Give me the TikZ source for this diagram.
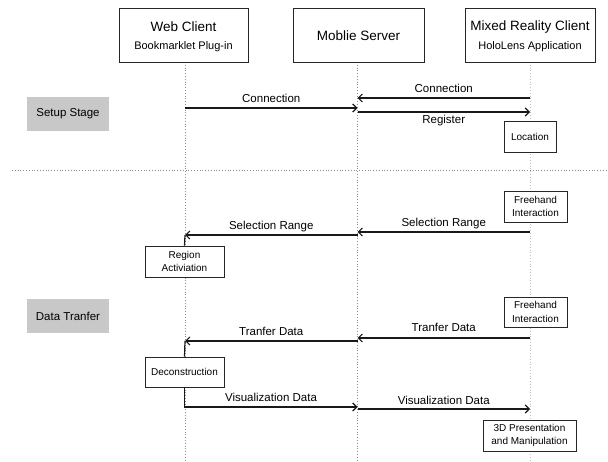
\documentclass[tikz,border=0pt]{standalone}
\usepackage{fontspec}
\setmainfont{Liberation Sans}
\usetikzlibrary{arrows.meta}
\definecolor{stagegray}{HTML}{C8C8C8}
\definecolor{lifegray}{HTML}{8C8C8C}
\begin{document}
\begin{tikzpicture}[x=1pt,y=-1pt,
  titlebox/.style={draw=black!85,line width=0.8pt,fill=white,minimum width=129pt,minimum height=54pt,inner sep=0pt},
  ttl/.style={font=\fontsize{13.5}{16}\selectfont,inner sep=0pt},
  sub/.style={font=\fontsize{11}{13}\selectfont,inner sep=0pt},
  smallbox/.style={draw=black!85,line width=0.8pt,fill=white,inner sep=0pt,align=center,font=\fontsize{10}{13.5}\selectfont},
  stagebox/.style={fill=stagegray,minimum width=82pt,minimum height=34pt,inner sep=0pt,font=\fontsize{11.5}{13}\selectfont},
  lifeline/.style={dotted,line width=0.8pt,draw=lifegray},
  msg/.style={-{Straight Barb[length=4pt,width=8pt]},line width=1.2pt,draw=black!90},
  plainline/.style={line width=1.2pt,draw=black!90},
  lbl/.style={font=\fontsize{11.5}{13}\selectfont,text height=8pt,text depth=2pt,inner sep=0pt}
]
\useasboundingbox (0,0) rectangle (608,462);

% lifeline end points
\coordinate (wTop) at (185,62);   \coordinate (wBot) at (185,462);
\coordinate (sTop) at (357.5,62); \coordinate (sBot) at (357.5,462);
\coordinate (mTop) at (530,62);   \coordinate (mBot) at (530,462);
\coordinate (sepL) at (12,170);   \coordinate (sepR) at (608,170);

\draw[lifeline] (wTop) -- (wBot);
\draw[lifeline] (sTop) -- (sBot);
\draw[lifeline,draw=black!25] (mTop) -- (mBot);
\draw[lifeline] (sepL) -- (sepR);

% participants
\node[titlebox] (web) at (183.5,35) {};
\node[ttl] (webT) at (183.5,27) {Web Client};
\node[sub] (webS) at (183.5,47) {Bookmarklet Plug-in};
\node[titlebox,minimum width=131pt] (srv) at (358.5,35) {};
\node[ttl] (srvT) at (358.5,36) {Moblie Server};
\node[titlebox,minimum width=130pt] (mr) at (530,35) {};
\node[ttl] (mrT) at (530,27) {Mixed Reality Client};
\node[sub] (mrS) at (530,47) {HoloLens Application};

% stages
\node[stagebox] (setup) at (68,114) {Setup Stage};
\node[stagebox] (data) at (68,316) {Data Tranfer};

% activity boxes
\node[smallbox,minimum width=52pt,minimum height=31pt] (loc) at (530,136.5) {Location};
\node[smallbox,minimum width=63pt,minimum height=31pt] (fh1) at (535.5,206.5) {Freehand\\Interaction};
\node[smallbox,minimum width=79pt,minimum height=31pt] (reg) at (184.5,261.5) {Region\\Activiation};
\node[smallbox,minimum width=63pt,minimum height=30pt] (fh2) at (535.5,312) {Freehand\\Interaction};
\node[smallbox,minimum width=79pt,minimum height=30pt] (dec) at (184.5,372) {Deconstruction};
\node[smallbox,minimum width=93pt,minimum height=31pt] (pres) at (529.5,435.5) {3D Presentation\\and Manipulation};

% message anchor points
\coordinate (w1) at (185,108);  \coordinate (s1) at (357.5,108);
\coordinate (m2) at (530,98);   \coordinate (s2) at (357.5,98);
\coordinate (s3) at (357.5,112);\coordinate (m3) at (530,112);
\coordinate (m4) at (530,232);  \coordinate (s4) at (357.5,232);
\coordinate (s5) at (357.5,235);\coordinate (w5) at (185,235);
\coordinate (m6) at (530,338);  \coordinate (s6) at (357.5,338);
\coordinate (s7) at (357.5,341);\coordinate (w7) at (185,341);
\coordinate (s8) at (357.5,407);
\coordinate (s9) at (357.5,409);\coordinate (m9) at (530,409);

% setup stage messages
\draw[msg] (w1) -- node[lbl,yshift=8pt] {Connection} (s1);
\draw[msg] (m2) -- node[lbl,yshift=8pt] {Connection} (s2);
\draw[msg] (s3) -- node[lbl,yshift=-9pt] {Register} (m3);

% data transfer messages
\draw[msg] (m4) -- node[lbl,yshift=8pt] {Selection Range} (s4);
\draw[msg] (s5) -- node[lbl,yshift=8pt] {Selection Range} (w5);
\draw[plainline] (w5) -- (reg.north);
\draw[msg] (m6) -- node[lbl,yshift=9pt] {Tranfer Data} (s6);
\draw[msg] (s7) -- node[lbl,yshift=8pt] {Tranfer Data} (w7);
\draw[plainline] (w7) -- (dec.north);
\draw[msg] (dec.south) |- node[lbl,pos=0.75,yshift=8pt] {Visualization Data} (s8);
\draw[msg] (s9) -- node[lbl,yshift=8pt] {Visualization Data} (m9);
\end{tikzpicture}
\end{document}
